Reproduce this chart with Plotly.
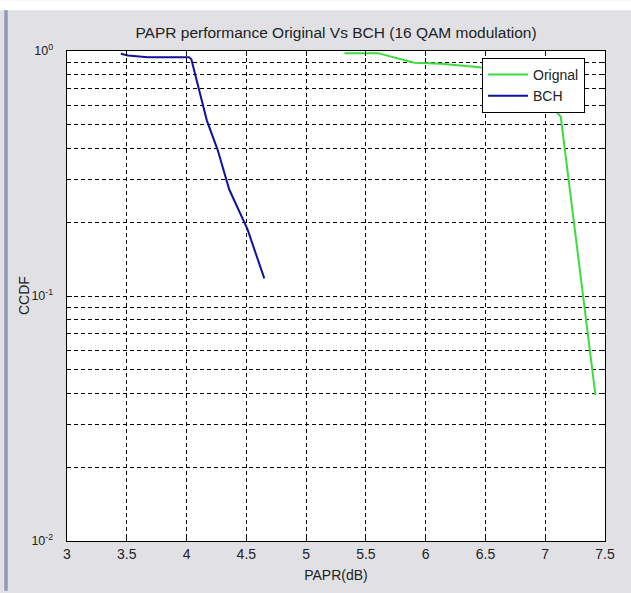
import plotly.graph_objects as go

# Data
orig_x = [5.32, 5.60, 5.905, 6.127, 6.43, 6.75, 6.95, 7.05, 7.13, 7.42]
orig_y = [0.98, 0.98, 0.896, 0.887, 0.86, 0.82, 0.72, 0.60, 0.539, 0.0394]
bch_x = [3.45, 3.51, 3.675, 4.02, 4.04, 4.17, 4.26, 4.357, 4.51, 4.65]
bch_y = [0.974, 0.959, 0.944, 0.944, 0.925, 0.52, 0.395, 0.272, 0.187, 0.118]

x_ticks = [3, 3.5, 4, 4.5, 5, 5.5, 6, 6.5, 7, 7.5]
x_tick_labels = ["3", "3.5", "4", "4.5", "5", "5.5", "6", "6.5", "7", "7.5"]
y_ticks = [0.01, 0.1, 1]
y_tick_labels = ["10<sup>-2</sup>", "10<sup>-1</sup>", "10<sup>0</sup>"]
y_minor = [m * d for d in (0.01, 0.1) for m in range(2, 10)]

W, H = 631, 593
L, R, T, B = 67, 26, 51, 50
pw, ph = W - L - R, H - T - B

def px(xp):
    return (xp - L) / pw

def py(yp):
    return (H - B - yp) / ph

font = "Liberation Sans, Arial, sans-serif"
pad = "\u00a0\u00a0\u00a0"

fig = go.Figure()
fig.add_trace(go.Scatter(x=orig_x, y=orig_y, mode="lines", name="Orignal",
                         line=dict(color="#3ddc3d", width=2)))
fig.add_trace(go.Scatter(x=bch_x, y=bch_y, mode="lines", name="BCH",
                         line=dict(color="#10129a", width=2)))

grid = dict(showgrid=True, gridcolor="black", gridwidth=1, griddash="4px,3px")

fig.update_layout(
    width=W, height=H,
    margin=dict(l=L, r=R, t=T, b=B),
    paper_bgcolor="#e1e1e5",
    plot_bgcolor="white",
    font=dict(family=font, size=14, color="#222"),
    title=dict(text="PAPR performance Original Vs BCH (16 QAM modulation)",
               x=(L + pw / 2) / W, xanchor="center",
               y=1 - 33 / H, yanchor="middle", yref="container",
               font=dict(family=font, size=15.5, color="#222")),
    xaxis=dict(range=[3, 7.5], tickvals=x_ticks, ticktext=x_tick_labels,
               ticks="inside", ticklen=5, tickcolor="black",
               showline=True, linecolor="black", linewidth=1, mirror="ticks",
               zeroline=False, tickfont=dict(size=14),
               title=dict(text="PAPR(dB)", standoff=9,
                          font=dict(family=font, size=14)),
               **grid),
    yaxis=dict(type="log", range=[-2, 0], tickvals=y_ticks,
               ticktext=[t + pad for t in y_tick_labels],
               ticks="inside", ticklen=5, tickcolor="black",
               showline=True, linecolor="black", linewidth=1, mirror="ticks",
               zeroline=False, tickfont=dict(size=12.5),
               minor=dict(tickvals=y_minor, showgrid=True, gridcolor="black",
                          griddash="4px,3px", ticks="inside", ticklen=3,
                          tickcolor="black"),
               **grid),
    legend=dict(x=px(482), y=py(58), xanchor="left", yanchor="top",
                bgcolor="white", bordercolor="black", borderwidth=1,
                font=dict(family=font, size=14, color="#222"),
                tracegroupgap=0, itemwidth=40),
    showlegend=True,
    annotations=[
        dict(text="CCDF", textangle=-90, xref="paper", yref="paper",
             x=px(24), y=py(297), xanchor="center", yanchor="middle",
             showarrow=False, font=dict(family=font, size=14, color="#222")),
    ],
    shapes=[
        dict(type="rect", xref="paper", yref="paper",
             x0=px(0), x1=px(W), y0=py(10), y1=py(0),
             fillcolor="white", line=dict(width=0), layer="below"),
        dict(type="rect", xref="paper", yref="paper",
             x0=px(4), x1=px(8), y0=py(H), y1=py(10),
             fillcolor="#a4abc4", line=dict(width=0), layer="below"),
        dict(type="line", xref="paper", yref="paper",
             x0=px(6), x1=px(6), y0=py(H), y1=py(10),
             line=dict(color="#7c86a8", width=1), layer="below"),
    ],
)

fig.write_html("out.html")
